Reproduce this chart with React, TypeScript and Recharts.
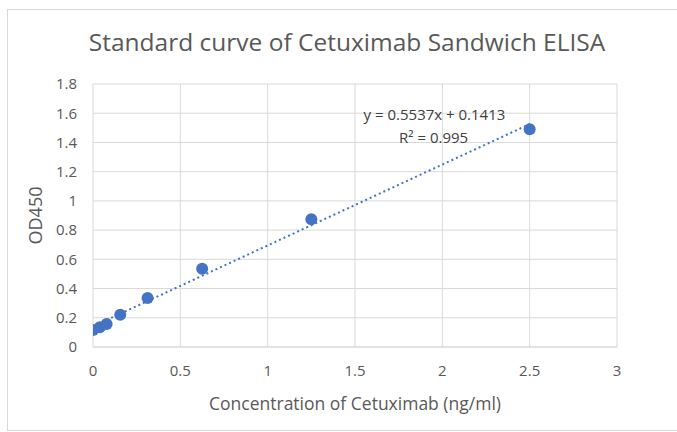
import React from 'react';
import {
  ComposedChart,
  Scatter,
  Line,
  XAxis,
  YAxis,
  CartesianGrid,
  ReferenceDot,
} from 'recharts';

const concentration = [0, 0.039, 0.078, 0.156, 0.3125, 0.625, 1.25, 2.5];
const od450 = [0.116, 0.135, 0.158, 0.22, 0.335, 0.535, 0.875, 1.49];
const trendX = [0, 2.5];
const trendY = [0.1413, 1.5256];
const xTicks = [0, 0.5, 1, 1.5, 2, 2.5, 3];
const yTicks = [0, 0.2, 0.4, 0.6, 0.8, 1, 1.2, 1.4, 1.6, 1.8];

const title = 'Standard curve of Cetuximab Sandwich ELISA';
const xLabel = 'Concentration of Cetuximab (ng/ml)';
const yLabel = 'OD450';
const equation = 'y = 0.5537x + 0.1413';
const rSquared = 'R² = 0.995';

const points = concentration.map((c, i) => ({ x: c, y: od450[i] }));
const trend = trendX.map((x, i) => ({ x, y: trendY[i] }));

const FONT = '"Open Sans", "Noto Sans", sans-serif';
const BLUE = '#4472c4';
const GRAY = '#595959';

export default function App() {
  return (
    <div
      style={{
        position: 'absolute',
        left: 0,
        top: 0,
        width: 677,
        height: 432,
        background: '#fff',
        fontFamily: FONT,
        overflow: 'hidden',
      }}
    >
      <div
        style={{
          position: 'absolute',
          left: 7,
          top: 9,
          width: 680,
          height: 422,
          border: '1.5px solid #d9d9d9',
          boxSizing: 'border-box',
        }}
      />
      <div
        style={{
          position: 'absolute',
          left: 0,
          top: 26,
          width: 694,
          textAlign: 'center',
          fontSize: 24.5,
          color: GRAY,
          lineHeight: '32px',
          whiteSpace: 'nowrap',
        }}
      >
        {title}
      </div>
      <div style={{ position: 'absolute', left: 0, top: 0 }}>
        <ComposedChart
          width={677}
          height={432}
          margin={{ top: 84, right: 60, bottom: 0, left: 0 }}
        >
          <CartesianGrid stroke="#d9d9d9" strokeWidth={1} />
          <XAxis
            type="number"
            dataKey="x"
            domain={[0, 3]}
            ticks={xTicks}
            interval={0}
            allowDataOverflow
            height={85}
            tickLine={false}
            axisLine={{ stroke: '#d9d9d9' }}
            tickSize={0}
            tickMargin={18}
            tick={{ fill: GRAY, fontSize: 15, fontFamily: FONT }}
            label={{
              value: xLabel,
              position: 'insideBottom',
              offset: 22,
              fill: GRAY,
              fontSize: 17.5,
              fontFamily: FONT,
            }}
          />
          <YAxis
            type="number"
            dataKey="y"
            domain={[0, 1.8]}
            ticks={yTicks}
            interval={0}
            allowDataOverflow
            width={93}
            tickLine={false}
            axisLine={false}
            tickSize={0}
            tickMargin={16}
            tick={{ fill: GRAY, fontSize: 15, fontFamily: FONT }}
            label={{
              value: yLabel,
              angle: -90,
              position: 'insideLeft',
              offset: 36,
              fill: GRAY,
              fontSize: 18,
              fontFamily: FONT,
              style: { textAnchor: 'middle' },
            }}
          />
          <Line
            data={trend}
            dataKey="y"
            type="linear"
            stroke={BLUE}
            strokeWidth={2}
            strokeDasharray="2 3"
            dot={false}
            activeDot={false}
            isAnimationActive={false}
          />
          <Scatter
            data={points}
            dataKey="y"
            fill={BLUE}
            shape={(p: any) => <circle cx={p.cx} cy={p.cy} r={6} fill={BLUE} />}
            isAnimationActive={false}
          />
          <ReferenceDot
            x={1.955}
            y={1.588}
            r={0}
            fill="none"
            stroke="none"
            label={{ value: equation, position: 'center', fill: '#404040', fontSize: 15, fontFamily: FONT }}
          />
          <ReferenceDot
            x={1.95}
            y={1.43}
            r={0}
            fill="none"
            stroke="none"
            label={{ value: rSquared, position: 'center', fill: '#404040', fontSize: 15, fontFamily: FONT }}
          />
        </ComposedChart>
      </div>
    </div>
  );
}
